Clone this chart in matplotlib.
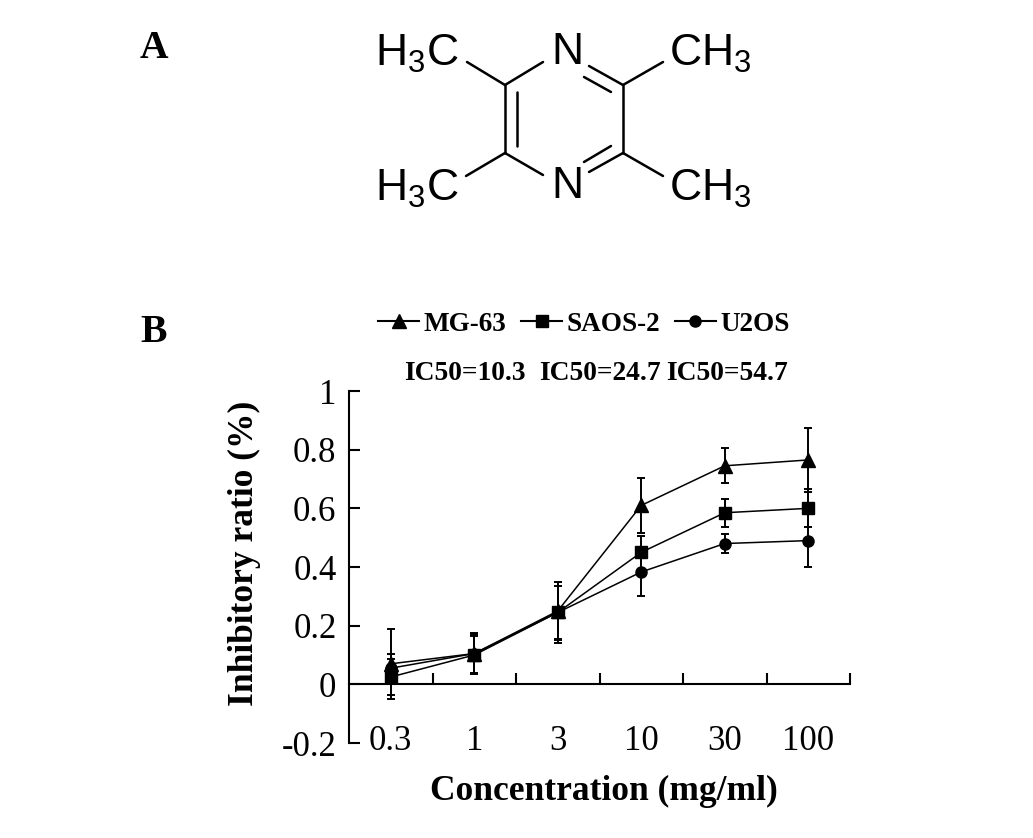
import matplotlib
matplotlib.use('Agg')
import matplotlib.pyplot as plt
from matplotlib.lines import Line2D

plt.rcParams['font.family'] = ['Liberation Serif', 'DejaVu Serif']
plt.rcParams['mathtext.fontset'] = 'custom'
plt.rcParams['mathtext.rm'] = 'Liberation Sans'

W, H = 1033, 838

# Panel B data
concentrations = ['0.3', '1', '3', '10', '30', '100']
mg63 = [0.07, 0.105, 0.25, 0.61, 0.745, 0.765]
saos2 = [0.025, 0.10, 0.245, 0.45, 0.585, 0.60]
u2os = [0.055, 0.105, 0.245, 0.383, 0.48, 0.49]
mg63_err = [0.12, 0.065, 0.10, 0.095, 0.06, 0.11]
saos2_err = [0.06, 0.065, 0.09, 0.057, 0.048, 0.065]
u2os_err = [0.05, 0.07, 0.105, 0.083, 0.032, 0.09]
ic50_labels = ['IC50=10.3', 'IC50=24.7', 'IC50=54.7']
y_ticks = [-0.2, 0, 0.2, 0.4, 0.6, 0.8, 1]
y_tick_labels = ['-0.2', '0', '0.2', '0.4', '0.6', '0.8', '1']

# Panel A structure, in pixels of the picture
bonds = [
    ((467, 62), (505, 85)), ((505, 85), (543, 62)),
    ((589, 66), (623, 85)), ((623, 85), (663, 62)),
    ((623, 85), (623, 153)), ((623, 153), (589, 172)),
    ((623, 153), (663, 176)), ((505, 85), (505, 153)),
    ((505, 153), (466, 176)), ((505, 153), (543, 175)),
    ((517, 92), (517, 146)), ((584, 77), (611, 92)), ((584, 162), (611, 146)),
]
atoms = [
    ('H$_3$C', 417, 54), ('N', 567, 52), ('CH$_3$', 710, 54),
    ('H$_3$C', 417, 189), ('N', 567, 187), ('CH$_3$', 710, 189),
]

fig = plt.figure(figsize=(W / 100, H / 100), dpi=100)

# Axes placed on the pixel box of the reference plot
left, right, top, bottom = 349, 850, 391, 743
ax = fig.add_axes([left / W, 1 - bottom / H, (right - left) / W, (bottom - top) / H])
x = range(len(concentrations))

styles = [
    (u2os, u2os_err, 'o', 8),
    (mg63, mg63_err, '^', 9.5),
    (saos2, saos2_err, 's', 8.5),
]
for values, errs, marker, size in styles:
    ax.errorbar(x, values, yerr=errs, color='black', lw=1.1, elinewidth=1.4, capsize=3,
                capthick=1.4, marker=marker, markersize=size, clip_on=False)

ax.set_xlim(-0.5, 5.5)
ax.set_ylim(-0.2, 1)
ax.spines['top'].set_visible(False)
ax.spines['right'].set_visible(False)
ax.spines['bottom'].set_position(('data', 0))
ax.spines['left'].set_linewidth(1.5)
ax.spines['bottom'].set_linewidth(1.5)

ax.set_yticks(y_ticks)
ax.set_yticklabels(y_tick_labels)
ax.tick_params(axis='y', direction='in', length=8, width=1.5, pad=9, labelsize=25)

# Category edges carry the ticks, category centres the labels
ax.set_xticks([i - 0.5 for i in range(1, len(concentrations) + 1)])
ax.set_xticklabels([])
ax.set_xticks(list(x), minor=True)
ax.set_xticklabels(concentrations, minor=True)
ax.tick_params(axis='x', which='major', direction='in', length=8, width=1.5)
ax.tick_params(axis='x', which='minor', length=0, pad=29.5, labelsize=25)

ax.set_xlabel('Concentration (mg/ml)', fontsize=25.5, fontweight='bold')
ax.xaxis.set_label_coords((604 - left) / (right - left), (bottom - 791) / (bottom - top), transform=ax.transAxes)
ax.xaxis.label.set_va('center')
ax.set_ylabel('Inhibitory ratio (%)', fontsize=25.5, fontweight='bold')
ax.yaxis.set_label_coords((244 - left) / (right - left), (bottom - 553) / (bottom - top), transform=ax.transAxes)
ax.yaxis.label.set_va('center')

handles = [
    Line2D([], [], color='black', lw=1.5, marker='^', markersize=10, label='MG-63'),
    Line2D([], [], color='black', lw=1.5, marker='s', markersize=9, label='SAOS-2'),
    Line2D([], [], color='black', lw=1.5, marker='o', markersize=8, label='U2OS'),
]
fig.legend(handles=handles, ncol=3, frameon=False, loc='center', bbox_to_anchor=(584 / W, 1 - 324 / H),
           prop={'size': 19.5, 'weight': 'bold'}, handlelength=1.5, handletextpad=0.17, columnspacing=0.55,
           borderpad=0, borderaxespad=0)

# Overlay in picture pixels for panel A and the annotations
over = fig.add_axes([0, 0, 1, 1])
over.set_xlim(0, W)
over.set_ylim(H, 0)
over.axis('off')
over.patch.set_alpha(0)

for start, end in bonds:
    over.plot([start[0], end[0]], [start[1], end[1]], color='black', lw=1.8, solid_capstyle='round')
for label, ax_x, ax_y in atoms:
    over.text(ax_x, ax_y, label, family='Liberation Sans', fontsize=32, ha='center', va='center')

over.text(140, 48, 'A', fontsize=28.5, fontweight='bold', va='center')
over.text(140, 332, 'B', fontsize=28.5, fontweight='bold', va='center')
for label, ic_x in zip(ic50_labels, [404, 539, 666]):
    over.text(ic_x, 373, label, fontsize=19.8, fontweight='bold', va='center')

fig.savefig('out.png', dpi=100)
